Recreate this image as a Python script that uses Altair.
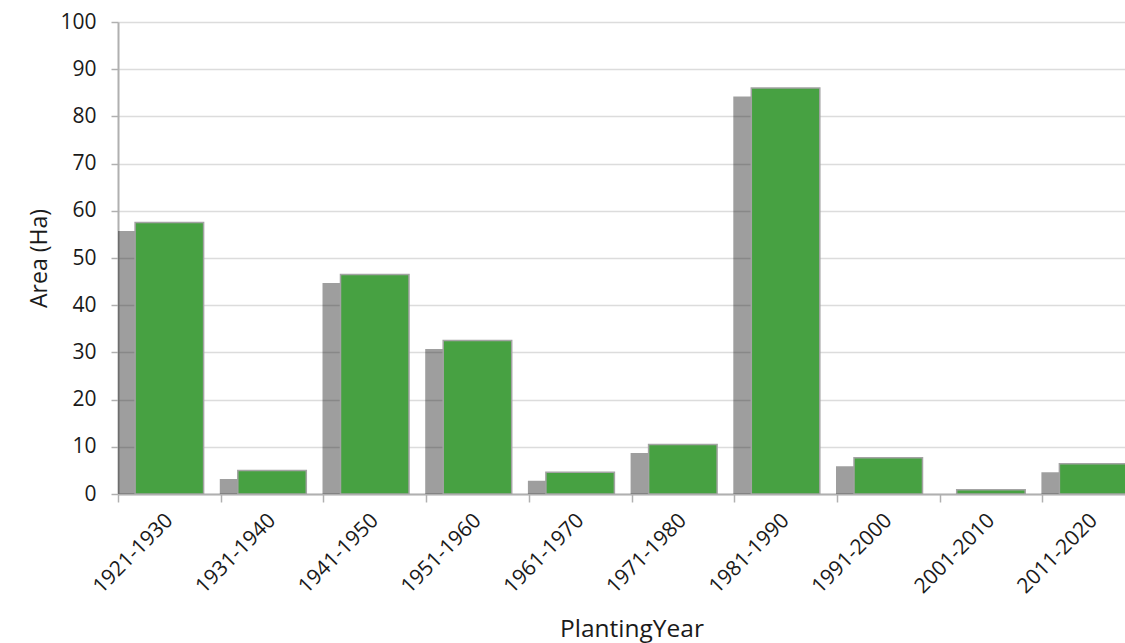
import altair as alt
import pandas as pd

periods = ["1921-1930", "1931-1940", "1941-1950", "1951-1960", "1961-1970",
           "1971-1980", "1981-1990", "1991-2000", "2001-2010", "2011-2020"]
areas = [57.5, 5.0, 46.5, 32.5, 4.6, 10.5, 86.0, 7.7, 0.9, 6.4]

df = pd.DataFrame({"period": periods, "area": areas})

FONT = "Open Sans"
AXIS_GRAY = "#b0b0b0"

x_enc = alt.X(
    "period:N",
    sort=periods,
    scale=alt.Scale(range=[0, 1027], paddingInner=0, paddingOuter=0),
    axis=alt.Axis(
        title="PlantingYear",
        titleFont=FONT, titleFontSize=24.5, titleFontWeight="normal", titleColor="#1a1a1a",
        titleY=142, titleBaseline="alphabetic",
        labelFont=FONT, labelFontSize=21, labelColor="#1a1a1a",
        labelAngle=315, labelAlign="right", labelBaseline="middle",
        labelPadding=15, labelOverlap=False, labelFlush=False, labelBound=False,
        tickBand="extent", tickSize=8, tickColor=AXIS_GRAY, tickWidth=1.5,
        domainColor=AXIS_GRAY, domainWidth=2, grid=False,
    ),
)

y_axis = alt.Axis(
    title="Area (Ha)",
    titleFont=FONT, titleFontSize=23, titleFontWeight="normal", titleColor="#1a1a1a",
    titleX=-72, titleY=236, titleBaseline="alphabetic", titleAlign="center",
    values=list(range(0, 101, 10)),
    labelFont=FONT, labelFontSize=21, labelColor="#1a1a1a", labelPadding=15,
    tickSize=7, tickColor=AXIS_GRAY, tickWidth=1.5,
    domainColor=AXIS_GRAY, domainWidth=2,
    grid=True, gridColor="#dcdcdc", gridWidth=1.5,
)

y_scale = alt.Scale(domain=[0, 100], nice=False)

base = alt.Chart(df)

shadow = base.transform_calculate(
    shadow="max(datum.area - 1.8, 0)"
).mark_bar(
    width=alt.RelativeBandSize(0.667), xOffset=-18, color="black", opacity=0.38, clip=True
).encode(
    x=x_enc,
    y=alt.Y("shadow:Q", scale=y_scale, axis=y_axis, title="Area (Ha)"),
)

bars = base.mark_bar(
    width=alt.RelativeBandSize(0.667), color="#47a142", stroke="#a3a3a3", strokeWidth=1.5,
    clip=True,
).encode(
    x=x_enc,
    y=alt.Y("area:Q", scale=y_scale, axis=y_axis, title="Area (Ha)"),
)

chart = alt.layer(shadow, bars).properties(
    width=1007,
    height=472,
    autosize=alt.AutoSizeParams(type="none"),
    padding={"left": 118, "top": 22, "right": 0, "bottom": 149},
    background="white",
).configure_view(stroke=None)

chart.save("out.html", embed_options={"renderer": "svg", "actions": False})
